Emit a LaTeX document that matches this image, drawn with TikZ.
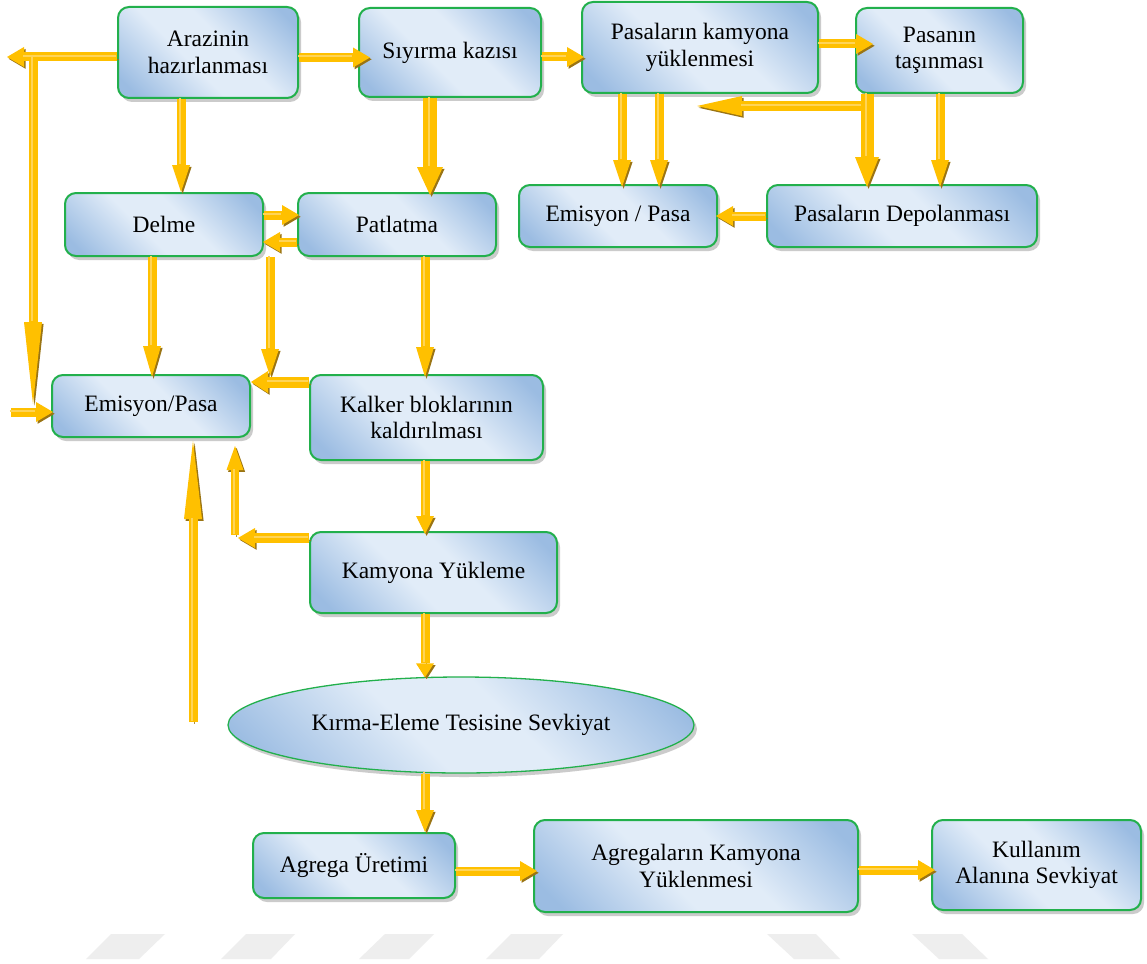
\documentclass[tikz,border=0pt]{standalone}
\usepackage{fontspec}
\setmainfont{Liberation Serif}
\usetikzlibrary{arrows.meta,shadows,shapes.geometric}

\definecolor{bxlight}{HTML}{E1ECF8}
\definecolor{bxdark}{HTML}{9BBCE2}
\definecolor{bxedge}{HTML}{22B04C}
\definecolor{gold}{HTML}{FFC000}
\definecolor{golddark}{HTML}{9A7414}
\definecolor{goldlight}{HTML}{FFD456}
\definecolor{markgray}{HTML}{EEEEEE}

\pgfdeclarehorizontalshading{boxfill}{100bp}{color(0bp)=(bxdark); color(20bp)=(bxdark); color(43bp)=(bxlight); color(57bp)=(bxlight); color(80bp)=(bxdark); color(100bp)=(bxdark)}

\tikzset{
  stage/.style={draw=bxedge, line width=2pt, rounded corners=11pt,
    shading=boxfill, shading angle=45, align=center, inner sep=0pt,
    font=\fontsize{23.5}{26.5}\selectfont,
    drop shadow={shadow xshift=3pt, shadow yshift=-4pt, fill=black!45, opacity=.45}},
  oval/.style={ellipse, draw=bxedge, line width=1.3pt,
    shading=boxfill, shading angle=45, align=center, inner sep=0pt,
    font=\fontsize{23.5}{26.5}\selectfont,
    drop shadow={shadow xshift=3pt, shadow yshift=-4pt, fill=black!45, opacity=.45}},
  arr/.style n args={3}{line width=#1, draw=gold,
    -{Triangle[width=#2,length=#3,line width=0pt]},
    preaction={draw=golddark, draw opacity=.8, transform canvas={xshift=1.6pt,yshift=-1.8pt}},
    postaction={draw=goldlight, line width=2pt, -, shorten >=#3,
      transform canvas={xshift=-1.2pt,yshift=1.2pt}}},
  fl/.style={arr={9pt}{20pt}{17pt}},
  fldown/.style={arr={9pt}{18pt}{27pt}}
}

\begin{document}
\begin{tikzpicture}[x=1pt,y=-1pt]
\useasboundingbox (0,0) rectangle (1147,963);
\fill[white] (0,0) rectangle (1147,963);

% faint marks along the bottom edge
\begin{scope}[fill=markgray]
  \fill (86,959) -- (139,959) -- (165,934) -- (111,934) -- cycle;
  \fill (221,959) -- (271,959) -- (295,934) -- (246,934) -- cycle;
  \fill (359,959) -- (409,959) -- (434,934) -- (385,934) -- cycle;
  \fill (486,959) -- (539,959) -- (563,934) -- (511,934) -- cycle;
  \fill (767,934) -- (816,934) -- (840,959) -- (794,959) -- cycle;
  \fill (912,934) -- (962,934) -- (988,959) -- (939,959) -- cycle;
\end{scope}

% process stages
\node[stage, minimum width=180pt, minimum height=91pt] (araz) at (208,52.5) {Arazinin\\hazırlanması};
\node[stage, minimum width=182pt, minimum height=89pt] (siyir) at (450,52.5) {Sıyırma kazısı};
\node[stage, minimum width=236pt, minimum height=91pt] (pkam) at (700,47.5) {Pasaların kamyona\\yüklenmesi};
\node[stage, minimum width=167pt, minimum height=85pt] (ptas) at (939.5,50.5) {Pasanın\\taşınması};
\node[stage, minimum width=198pt, minimum height=62pt] (emis2) at (618,216) {Emisyon / Pasa};
\node[stage, minimum width=270pt, minimum height=62pt] (pdep) at (902,216) {Pasaların Depolanması};
\node[stage, minimum width=198pt, minimum height=63pt] (delme) at (164,224.5) {Delme};
\node[stage, minimum width=198pt, minimum height=63pt] (patl) at (397,224.5) {Patlatma};
\node[stage, minimum width=198pt, minimum height=62pt] (emis1) at (151,406) {Emisyon/Pasa};
\node[stage, minimum width=233pt, minimum height=85pt] (kalk) at (426.5,417.5) {Kalker bloklarının\\kaldırılması};
\node[stage, minimum width=247pt, minimum height=81pt] (kamy) at (433.5,572.5) {Kamyona Yükleme};
\node[oval, minimum width=466pt, minimum height=96pt] (sevk) at (461,725) {Kırma-Eleme Tesisine Sevkiyat};
\node[stage, minimum width=202pt, minimum height=65pt] (agu) at (354,865.5) {Agrega Üretimi};
\node[stage, minimum width=324pt, minimum height=92pt] (agk) at (696,866) {Agregaların Kamyona\\Yüklenmesi};
\node[stage, minimum width=209pt, minimum height=90pt] (kul) at (1036.5,865) {Kullanım\\Alanına Sevkiyat};

% free ends of connectors
\coordinate (leftend) at (7,57);
\coordinate (ltop) at (33,57);
\coordinate (lbot) at (33,404);
\coordinate (lin) at (11,412);
\coordinate (ret) at (697,106);
\coordinate (kcorner) at (238,538);
\coordinate (kup) at (235,535);
\coordinate (upbot) at (193,722);

% top row
\draw[fl] (araz.west |- leftend) -- (leftend);
\draw[arr={9pt}{18pt}{82pt}] (ltop) -- (lbot);
\draw[fl] (lin) -- ([xshift=2pt]emis1.west |- lin);
\draw[fl] ([yshift=-5pt]araz.east) coordinate (a1) -- ([xshift=12pt]a1 -| siyir.west);
\draw[fl] ([yshift=-4.5pt]siyir.east) coordinate (s1) -- ([xshift=3pt]s1 -| pkam.west);
\draw[fl] ([yshift=3.5pt]pkam.east) coordinate (p1) -- ([xshift=18pt]p1 -| ptas.west);
\draw[arr={10pt}{20pt}{45pt}] ([xshift=8pt]ptas.south west |- ret) -- (ret);

% first descent
\draw[fldown] ([xshift=-27pt]araz.south) -- ([xshift=-27pt]araz.south |- delme.north);
\draw[arr={14pt}{26pt}{28pt}] ([xshift=-20pt]siyir.south) -- ([xshift=-20pt,yshift=-3pt]siyir.south |- patl.north);
\draw[fldown] ([xshift=-78pt]pkam.south) -- ([xshift=-78pt,yshift=-3pt]pkam.south |- emis2.north);
\draw[fldown] ([xshift=-41pt]pkam.south) -- ([xshift=-41pt,yshift=-3pt]pkam.south |- emis2.north);
\draw[arr={13pt}{24pt}{30pt}] ([xshift=-72.5pt]ptas.south) -- ([xshift=-72.5pt,yshift=-3pt]ptas.south |- pdep.north);
\draw[fldown] ([xshift=0.5pt]ptas.south) -- ([xshift=0.5pt,yshift=-3pt]ptas.south |- pdep.north);
\draw[fl] (pdep.west) -- ([xshift=-2pt]emis2.east);

% drilling and blasting
\draw[fl] ([yshift=9.5pt]delme.east) -- ([yshift=9.5pt,xshift=2pt]patl.west);
\draw[fl] ([yshift=-17.5pt]patl.west) -- ([yshift=-17.5pt,xshift=-1pt]delme.east);
\draw[arr={9pt}{18pt}{31pt}] ([xshift=-12pt]delme.south) -- ([xshift=-12pt,yshift=-3pt]delme.south |- emis1.north);
\draw[fldown] ([xshift=6pt]delme.south east) -- ([xshift=6pt,yshift=-2pt]delme.south east |- emis1.north);
\draw[arr={9pt}{18pt}{30pt}] ([xshift=28pt]patl.south) -- ([xshift=28pt,yshift=-3pt]patl.south |- emis1.north);
\draw[arr={11pt}{22pt}{17pt}] ([yshift=35.5pt]kalk.west) -- ([yshift=35.5pt]kalk.west -| emis1.east);

% loading and haulage
\draw[arr={9pt}{18pt}{18pt}] ([xshift=-1.5pt]kalk.south) -- ([xshift=-1.5pt,yshift=-3pt]kalk.south |- kamy.north);
\draw[arr={10pt}{20pt}{17pt}] (kamy.west |- kcorner) -- (kcorner);
\draw[arr={8pt}{17pt}{24pt}] (kup) -- ([yshift=-8pt]kup |- emis1.south);
\draw[arr={9pt}{18pt}{78pt}] (upbot) -- ([yshift=-3pt]upbot |- emis1.south);
\draw[arr={9pt}{18pt}{14pt}] ([xshift=-8.5pt]kamy.south) -- ([xshift=-8.5pt,yshift=-1pt]kamy.south |- sevk.north);
\draw[arr={9pt}{18pt}{22pt}] ([xshift=-36pt]sevk.south) -- ([xshift=-36pt]sevk.south |- agu.north);

% aggregate line
\draw[fl] ([yshift=-5.5pt]agu.east) -- ([yshift=-5.5pt,xshift=4pt]agu.east -| agk.west);
\draw[fl] ([yshift=-4pt]agk.east) -- ([yshift=-4pt,xshift=4pt]agk.east -| kul.west);
\end{tikzpicture}
\end{document}
